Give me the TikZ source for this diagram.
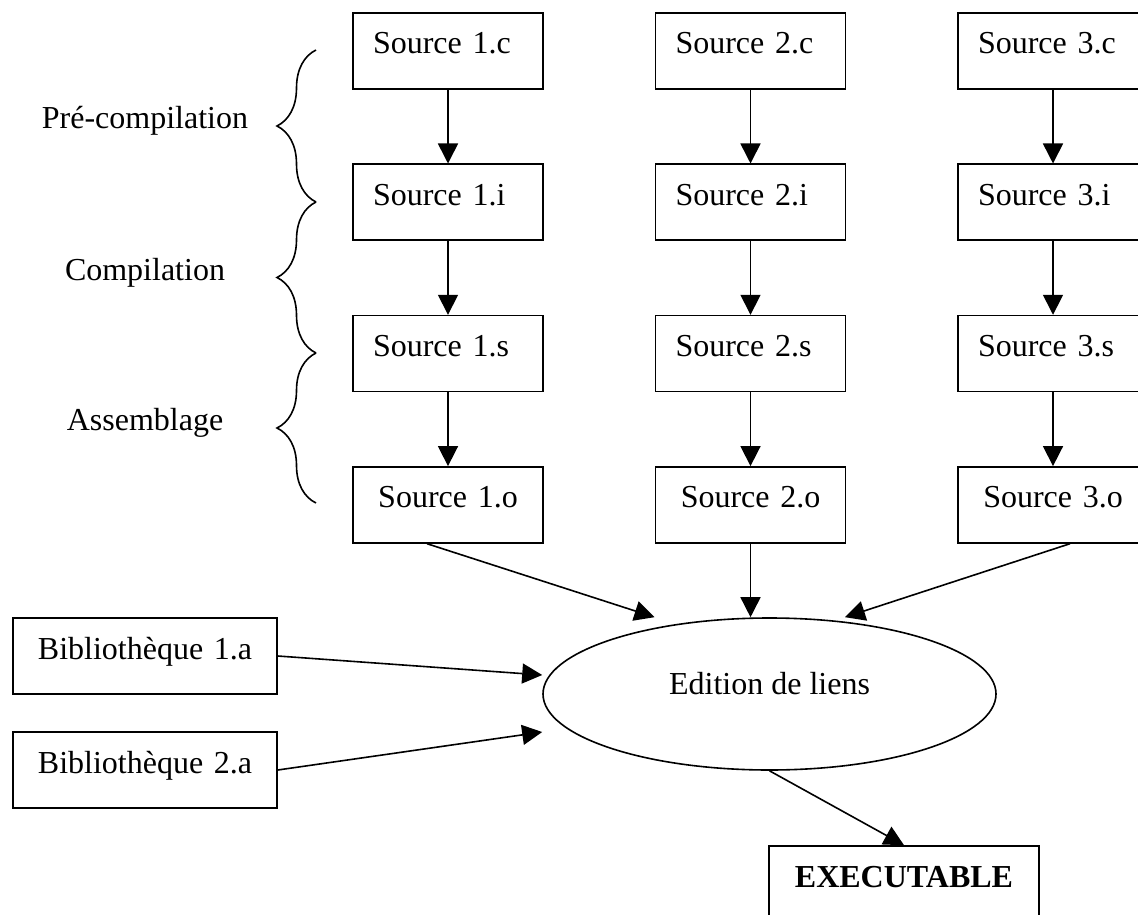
\documentclass[tikz,border=0pt]{standalone}
\usepackage{fontspec}
\setmainfont{Liberation Serif}
\usetikzlibrary{arrows.meta,shapes.geometric,decorations.pathreplacing}

\tikzset{
	file/.style={draw,rectangle,text width=75pt,inner xsep=10pt,inner ysep=5pt,
		text height=15.5pt,text depth=12.5pt,align=left},
	objfile/.style={file,align=center},
	libfile/.style={file,text width=112pt,align=center},
	linker/.style={draw,ellipse,minimum width=226.5pt,minimum height=76pt,
		text height=11pt,text depth=11pt},
	stage/.style={anchor=base},
	brace/.style={-,decorate,decoration={brace,amplitude=19.5pt}}
}

\begin{document}
\begin{tikzpicture}[x=0.5pt,y=-0.5pt,->,>={Triangle[length=10pt,width=10pt]},
	line width=0.8pt,node distance=75.65pt,
	every node/.style={font=\fontsize{16pt}{19pt}\selectfont}]
	\useasboundingbox (0,0) rectangle (1138,914);
	
	\node[file](c1) at (448,51){Source 1.c};
	\node[file](i1)[below of=c1]{Source 1.i};
	\node[file](s1)[below of=i1]{Source 1.s};
	\node[objfile](o1)[below of=s1]{Source 1.o};
	
	\node[file](c2)[right of=c1,node distance=151.25pt]{Source 2.c};
	\node[file](i2)[below of=c2]{Source 2.i};
	\node[file](s2)[below of=i2]{Source 2.s};
	\node[objfile](o2)[below of=s2]{Source 2.o};
	
	\node[file](c3)[right of=c2,node distance=151.25pt]{Source 3.c};
	\node[file](i3)[below of=c3]{Source 3.i};
	\node[file](s3)[below of=i3]{Source 3.s};
	\node[objfile](o3)[below of=s3]{Source 3.o};
	
	% the three steps on the left
	\draw[brace] (316,202) -- (316,50);
	\draw[brace] (316,353) -- (316,202);
	\draw[brace] (316,503) -- (316,353);
	\node[stage](pre) at (145,129){Pré-compilation};
	\node[stage](comp) at (145,280){Compilation};
	\node[stage](asm) at (145,430){Assemblage};
	
	\node[linker](link) at (769.5,694){Edition de liens};
	\node[libfile](lib1) at (145,656){Bibliothèque 1.a};
	\node[libfile](lib2)[below of=lib1,node distance=57pt]{Bibliothèque 2.a};
	\node[file,text width=115pt,align=center,font=\fontsize{16pt}{19pt}\selectfont\bfseries]
		(exe) at (904,884){EXECUTABLE};
	
	\path (c1) edge (i1)
	      (i1) edge (s1)
	      (s1) edge (o1)
	      (c2) edge (i2)
	      (i2) edge (s2)
	      (s2) edge (o2)
	      (c3) edge (i3)
	      (i3) edge (s3)
	      (s3) edge (o3);
	
	\draw ([xshift=-10.5pt]o1.south) -- ([xshift=-57.5pt]link.north);
	\draw (o2) -- (o2 |- link.north);
	\draw ([xshift=8.5pt]o3.south) -- ([xshift=37.75pt]link.north);
	\draw (lib1.east) -- ([yshift=9.5pt]link.west);
	\draw (lib2.east) -- ([yshift=-19pt]link.west);
	\draw (link.south) -- (exe.north);
\end{tikzpicture}
\end{document}
